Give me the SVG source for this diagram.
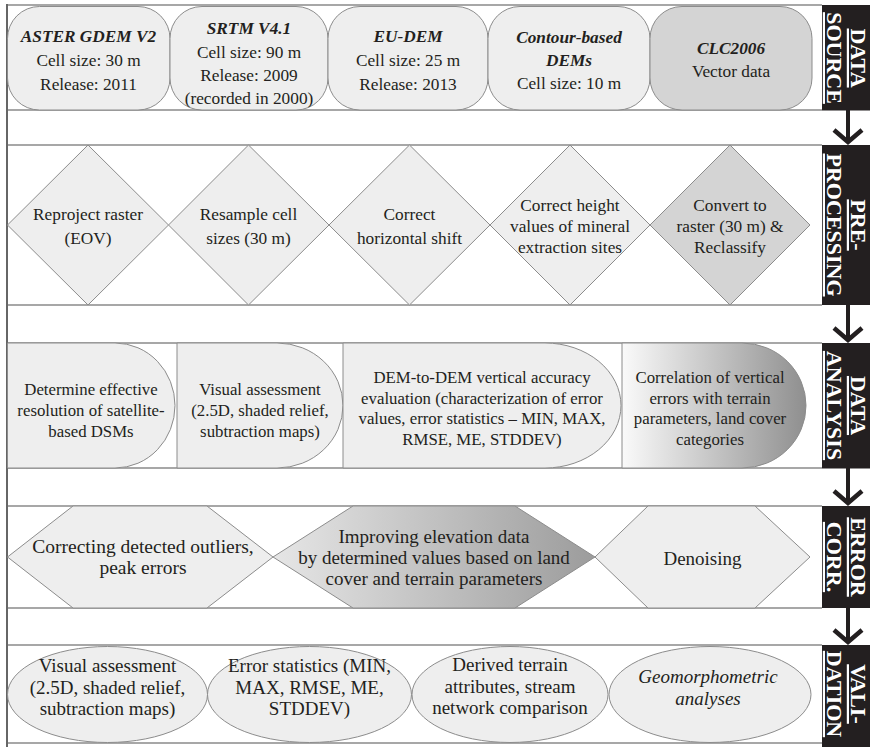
<svg xmlns="http://www.w3.org/2000/svg" width="870" height="747" viewBox="0 0 870 747">
<style>
.bl{stroke:#8a8a8a;stroke-width:1.5;fill:none}
.n{fill:#eeeeee;stroke:#8c8c8c;stroke-width:1}
.dk{fill:#d4d4d4;stroke:#8c8c8c;stroke-width:1}
.t{font-family:"Liberation Serif","Times New Roman",serif;fill:#231f20;text-anchor:middle}
.s1{font-size:17.3px}
.s3{font-size:16.8px}
.s4{font-size:19px}
.s5{font-size:19.5px}
.bi{font-weight:bold;font-style:italic}
.it{font-style:italic}
.lb{fill:#231f20}
.lt{font-family:"Liberation Serif","Times New Roman",serif;font-weight:bold;font-size:22px;fill:#ffffff;text-anchor:middle;text-decoration:underline}
.ar{stroke:#231f20;stroke-width:4;fill:none}
</style>
<defs>
<marker id="chev" viewBox="-15 -17 19 34" refX="0" refY="0" markerWidth="19" markerHeight="34" markerUnits="userSpaceOnUse" orient="auto">
<path d="M-12,-14 L0,0 L-12,14" fill="none" stroke="#231f20" stroke-width="4.5"/>
</marker>
<linearGradient id="g1" x1="0" y1="0" x2="1" y2="0">
<stop offset="0" stop-color="#fafafa"/>
<stop offset="1" stop-color="#8f8f8f"/>
</linearGradient>
<linearGradient id="g2" x1="0" y1="0" x2="1" y2="0">
<stop offset="0" stop-color="#e6e6e6"/>
<stop offset="1" stop-color="#9c9c9c"/>
</linearGradient>
</defs>
<rect width="870" height="747" fill="#ffffff"/>

<g id="frame">
<line class="bl" x1="7" y1="5" x2="822" y2="5"/>
<line class="bl" x1="7" y1="110" x2="822" y2="110"/>
<line class="bl" x1="7" y1="145" x2="822" y2="145"/>
<line class="bl" x1="7" y1="305" x2="822" y2="305"/>
<line class="bl" x1="7" y1="343" x2="822" y2="343"/>
<line class="bl" x1="7" y1="468" x2="822" y2="468"/>
<line class="bl" x1="7" y1="506" x2="822" y2="506"/>
<line class="bl" x1="7" y1="608" x2="822" y2="608"/>
<line class="bl" x1="7" y1="645" x2="822" y2="645"/>
<line class="bl" x1="7" y1="743" x2="822" y2="743"/>
<line x1="7" y1="4" x2="7" y2="747" stroke="#666666" stroke-width="2"/>
</g>

<!-- Row 1: data source -->
<g id="aster">
<rect class="n" x="7.5" y="6.5" width="162.5" height="103.5" rx="32"/>
<text class="t s1"><tspan class="bi" x="88.5" y="42">ASTER GDEM V2</tspan><tspan x="88.5" y="66">Cell size: 30 m</tspan><tspan x="88.5" y="90">Release: 2011</tspan></text>
</g>
<g id="srtm">
<rect class="n" x="170" y="6.5" width="158" height="103.5" rx="32"/>
<text class="t s1"><tspan class="bi" x="249" y="34">SRTM V4.1</tspan><tspan x="249" y="57.5">Cell size: 90 m</tspan><tspan x="249" y="81">Release: 2009</tspan><tspan x="249" y="104">(recorded in 2000)</tspan></text>
</g>
<g id="eudem">
<rect class="n" x="328" y="6.5" width="160" height="103.5" rx="32"/>
<text class="t s1"><tspan class="bi" x="408" y="42">EU-DEM</tspan><tspan x="408" y="66">Cell size: 25 m</tspan><tspan x="408" y="90">Release: 2013</tspan></text>
</g>
<g id="contour">
<rect class="n" x="488" y="6.5" width="162" height="103.5" rx="32"/>
<text class="t s1"><tspan class="bi" x="569" y="43">Contour-based</tspan><tspan class="bi" x="569" y="66">DEMs</tspan><tspan x="569" y="89">Cell size: 10 m</tspan></text>
</g>
<g id="clc">
<rect class="dk" x="650" y="6.5" width="162" height="103.5" rx="32"/>
<text class="t s1"><tspan class="bi" x="731" y="53.5">CLC2006</tspan><tspan x="731" y="76.5">Vector data</tspan></text>
</g>
<g id="lbl-source">
<rect class="lb" x="822" y="5" width="48" height="105.5"/>
<text class="lt" transform="translate(839,58) rotate(90)"><tspan x="0" y="-12">DATA</tspan><tspan x="0" y="12">SOURCE</tspan></text>
</g>

<!-- Row 2: pre-processing -->
<g id="reproject">
<polygon class="n" points="88,145 168.5,225 88,305 7.5,225"/>
<text class="t s1"><tspan x="88" y="220">Reproject raster</tspan><tspan x="88" y="244">(EOV)</tspan></text>
</g>
<g id="resample">
<polygon class="n" points="248.5,145 329,225 248.5,305 168.5,225"/>
<text class="t s1"><tspan x="248.5" y="220">Resample cell</tspan><tspan x="248.5" y="244">sizes (30 m)</tspan></text>
</g>
<g id="shift">
<polygon class="n" points="409.5,145 490,225 409.5,305 329,225"/>
<text class="t s1"><tspan x="409.5" y="220">Correct</tspan><tspan x="409.5" y="244">horizontal shift</tspan></text>
</g>
<g id="mineral">
<polygon class="n" points="570,145 650,225 570,305 490,225"/>
<text class="t s1"><tspan x="570" y="210.5">Correct height</tspan><tspan x="570" y="231.5">values of mineral</tspan><tspan x="570" y="252.5">extraction sites</tspan></text>
</g>
<g id="convert">
<polygon class="dk" points="730,145 810,225 730,305 650,225"/>
<text class="t s1"><tspan x="730" y="210.5">Convert to</tspan><tspan x="730" y="231.5">raster (30 m) &amp;</tspan><tspan x="730" y="252.5">Reclassify</tspan></text>
</g>
<g id="lbl-pre">
<rect class="lb" x="822" y="145" width="48" height="160"/>
<text class="lt" transform="translate(839,225) rotate(90)"><tspan x="0" y="-12">PRE-</tspan><tspan x="0" y="12">PROCESSING</tspan></text>
</g>

<!-- Row 3: data analysis -->
<g id="resolution">
<path class="n" d="M7.5,343 H115 A60,62.5 0 0 1 175,405.5 A60,62.5 0 0 1 115,468 H7.5 Z"/>
<text class="t s3"><tspan x="91" y="395">Determine effective</tspan><tspan x="91" y="416">resolution of satellite-</tspan><tspan x="91" y="437">based DSMs</tspan></text>
</g>
<g id="visual1">
<path class="n" d="M177,343 H277 A66,62.5 0 0 1 343,405.5 A66,62.5 0 0 1 277,468 H177 Z"/>
<text class="t s3"><tspan x="260" y="395">Visual assessment</tspan><tspan x="260" y="416">(2.5D, shaded relief,</tspan><tspan x="260" y="437">subtraction maps)</tspan></text>
</g>
<g id="dem2dem">
<path class="n" d="M343,343 H545 A76,62.5 0 0 1 621,405.5 A76,62.5 0 0 1 545,468 H343 Z"/>
<text class="t s3"><tspan x="482" y="383">DEM-to-DEM vertical accuracy</tspan><tspan x="482" y="403.5">evaluation (characterization of error</tspan><tspan x="482" y="424">values, error statistics – MIN, MAX,</tspan><tspan x="482" y="444.5">RMSE, ME, STDDEV)</tspan></text>
</g>
<g id="correlation">
<path d="M622,343 H742 A64,62.5 0 0 1 806,405.5 A64,62.5 0 0 1 742,468 H622 Z" fill="url(#g1)" stroke="#8c8c8c" stroke-width="1"/>
<text class="t s3"><tspan x="710" y="383">Correlation of vertical</tspan><tspan x="710" y="403.5">errors with terrain</tspan><tspan x="710" y="424">parameters, land cover</tspan><tspan x="710" y="444.5">categories</tspan></text>
</g>
<g id="lbl-analysis">
<rect class="lb" x="822" y="343" width="48" height="125.5"/>
<text class="lt" transform="translate(839,405.5) rotate(90)"><tspan x="0" y="-12">DATA</tspan><tspan x="0" y="12">ANALYSIS</tspan></text>
</g>

<!-- Row 4: error correction -->
<g id="outliers">
<polygon class="n" points="7.5,557 73,506 207,506 273,557 207,608 73,608"/>
<text class="t s5"><tspan x="143" y="553">Correcting detected outliers,</tspan><tspan x="143" y="574">peak errors</tspan></text>
</g>
<g id="improving">
<polygon points="273,557 353,506 515,506 595,557 515,608 353,608" fill="url(#g2)" stroke="#8c8c8c" stroke-width="1"/>
<text class="t s4"><tspan x="434" y="543">Improving elevation data</tspan><tspan x="434" y="564">by determined values based on land</tspan><tspan x="434" y="585">cover and terrain parameters</tspan></text>
</g>
<g id="denoising">
<polygon class="n" points="595,557 648,506 755,506 810,557 755,608 648,608"/>
<text class="t s4"><tspan x="702.5" y="564.5">Denoising</tspan></text>
</g>
<g id="lbl-error">
<rect class="lb" x="822" y="506" width="48" height="102"/>
<text class="lt" transform="translate(839,557) rotate(90)"><tspan x="0" y="-12">ERROR</tspan><tspan x="0" y="12">CORR.</tspan></text>
</g>

<!-- Row 5: validation -->
<g id="visual2">
<ellipse class="n" cx="107.5" cy="694.5" rx="100" ry="48"/>
<text class="t s4"><tspan x="107.5" y="672">Visual assessment</tspan><tspan x="107.5" y="693.5">(2.5D, shaded relief,</tspan><tspan x="107.5" y="715">subtraction maps)</tspan></text>
</g>
<g id="errstats">
<ellipse class="n" cx="309.5" cy="694.5" rx="102" ry="48"/>
<text class="t s4"><tspan x="309.5" y="672">Error statistics (MIN,</tspan><tspan x="309.5" y="693.5">MAX, RMSE, ME,</tspan><tspan x="309.5" y="715">STDDEV)</tspan></text>
</g>
<g id="derived">
<ellipse class="n" cx="510" cy="694.5" rx="98" ry="48"/>
<text class="t s4"><tspan x="510" y="671">Derived terrain</tspan><tspan x="510" y="692.5">attributes, stream</tspan><tspan x="510" y="714">network comparison</tspan></text>
</g>
<g id="geomorph">
<ellipse class="n" cx="710" cy="694.5" rx="101" ry="48"/>
<text class="t s4 it"><tspan x="708" y="683">Geomorphometric</tspan><tspan x="708" y="705">analyses</tspan></text>
</g>
<g id="lbl-validation">
<rect class="lb" x="822" y="645" width="48" height="102"/>
<text class="lt" transform="translate(839,694) rotate(90)"><tspan x="0" y="-12">VALI-</tspan><tspan x="0" y="12">DATION</tspan></text>
</g>

<g id="connectors">
<line class="ar" x1="848" y1="110" x2="848" y2="142" marker-end="url(#chev)"/>
<line class="ar" x1="848" y1="305" x2="848" y2="340" marker-end="url(#chev)"/>
<line class="ar" x1="848" y1="468" x2="848" y2="503" marker-end="url(#chev)"/>
<line class="ar" x1="848" y1="608" x2="848" y2="642" marker-end="url(#chev)"/>
</g>
</svg>
